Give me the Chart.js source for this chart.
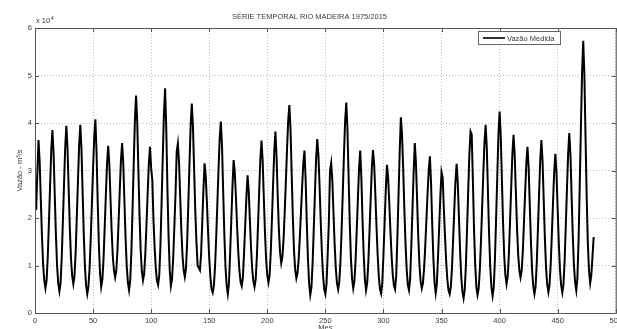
<!DOCTYPE html>
<html>
<head>
<meta charset="utf-8">
<script src="https://cdn.jsdelivr.net/npm/chart.js@4"></script>
<style>
  html, body { margin: 0; padding: 0; background: #fff; overflow: hidden; }
  #moldura { width: 617px; height: 329px; overflow: hidden; position: relative; }
  #caixa { width: 625px; height: 340px; }
</style>
</head>
<body>
<div id="moldura"><div id="caixa"><canvas id="grafico"></canvas></div></div>
<script>
const titulo = 'SÉRIE TEMPORAL RIO MADEIRA 1975/2015';
const rotuloSerie = 'Vazão Medida';
const rotuloX = 'Mes';
const rotuloY = 'Vazão - m³/s';
const expoenteY = '4';

const mesInicial = 1;
const ticksX = [0, 50, 100, 150, 200, 250, 300, 350, 400, 450, 500];
const ticksY = [0, 1, 2, 3, 4, 5, 6];

// vazao mensal, em unidades de 10^4 m3/s
const vazao = [
  2.17, 2.95, 3.64, 3.20, 2.39, 1.61, 1.02, 0.68, 0.52, 0.69, 1.19, 1.92,
  2.68, 3.42, 3.85, 3.37, 2.49, 1.65, 1.00, 0.63, 0.46, 0.63, 1.16, 1.92,
  2.72, 3.49, 3.94, 3.47, 2.61, 1.78, 1.14, 0.78, 0.61, 0.78, 1.28, 2.02,
  2.79, 3.52, 3.96, 3.46, 2.54, 1.65, 0.97, 0.58, 0.40, 0.55, 0.95, 1.58,
  2.31, 3.05, 3.71, 4.08, 3.37, 2.32, 1.43, 0.83, 0.55, 0.70, 1.14, 1.80,
  2.48, 3.13, 3.52, 3.13, 2.41, 1.72, 1.19, 0.89, 0.75, 0.89, 1.32, 1.94,
  2.59, 3.21, 3.58, 3.15, 2.34, 1.57, 0.98, 0.64, 0.48, 0.69, 1.30, 2.20,
  3.15, 4.05, 4.58, 4.04, 3.02, 2.05, 1.31, 0.88, 0.69, 0.83, 1.25, 1.87,
  2.52, 3.13, 3.50, 3.05, 2.80, 1.96, 1.38, 0.94, 0.68, 0.59, 0.80, 1.42,
  2.33, 3.28, 4.19, 4.73, 3.90, 2.65, 1.61, 0.90, 0.57, 0.72, 1.17, 1.83,
  2.52, 3.40, 3.57, 3.18, 2.45, 1.74, 1.21, 0.90, 0.76, 0.94, 1.49, 2.29,
  3.13, 3.94, 4.41, 3.92, 3.02, 2.15, 1.49, 1.00, 0.95, 0.90, 1.24, 1.91,
  2.59, 3.15, 2.88, 2.33, 1.71, 1.16, 0.76, 0.51, 0.43, 0.57, 0.97, 1.58,
  2.30, 3.02, 3.67, 4.03, 3.52, 2.58, 1.67, 0.98, 0.58, 0.40, 0.63, 1.25,
  1.95, 2.66, 3.22, 2.96, 2.43, 1.82, 1.29, 0.89, 0.65, 0.57, 0.76, 1.27,
  1.85, 2.43, 2.90, 2.57, 1.96, 1.37, 0.93, 0.67, 0.55, 0.70, 1.17, 1.84,
  2.55, 3.23, 3.63, 3.21, 2.43, 1.69, 1.12, 0.79, 0.64, 0.80, 1.28, 1.98,
  2.71, 3.41, 3.82, 3.27, 2.44, 1.74, 1.27, 1.05, 1.18, 1.55, 2.12, 2.78,
  3.45, 4.05, 4.38, 3.87, 2.92, 2.01, 1.31, 0.91, 0.73, 0.84, 1.13, 1.59,
  2.13, 2.67, 3.15, 3.42, 2.81, 1.90, 1.14, 0.62, 0.38, 0.54, 1.04, 1.76,
  2.51, 3.23, 3.66, 3.33, 2.68, 1.93, 1.28, 0.79, 0.50, 0.40, 0.62, 1.23,
  1.92, 3.00, 3.16, 2.79, 2.10, 1.43, 0.93, 0.63, 0.50, 0.66, 1.09, 1.76,
  2.54, 3.33, 4.04, 4.43, 3.88, 2.87, 1.89, 1.15, 0.72, 0.52, 0.67, 1.10,
  1.74, 2.41, 3.04, 3.42, 2.83, 1.95, 1.22, 0.72, 0.48, 0.63, 1.07, 1.72,
  2.40, 3.05, 3.43, 3.13, 2.52, 1.83, 1.23, 0.77, 0.50, 0.41, 0.63, 1.22,
  1.90, 2.58, 3.12, 2.86, 2.33, 1.73, 1.21, 0.81, 0.58, 0.50, 0.79, 1.59,
  2.49, 3.40, 4.12, 3.76, 3.03, 2.19, 1.46, 0.92, 0.59, 0.48, 0.73, 1.41,
  2.19, 2.96, 3.58, 3.15, 2.36, 1.59, 1.01, 0.67, 0.52, 0.63, 0.94, 1.41,
  1.97, 2.52, 3.02, 3.30, 2.72, 1.86, 1.14, 0.65, 0.42, 0.62, 1.19, 1.82,
  2.46, 2.97, 2.85, 2.20, 1.61, 1.09, 0.71, 0.48, 0.40, 0.54, 0.95, 1.55,
  2.18, 2.78, 3.14, 2.74, 2.01, 1.30, 0.76, 0.45, 0.31, 0.49, 1.01, 1.78,
  2.59, 3.36, 3.82, 3.76, 2.80, 1.75, 1.02, 0.55, 0.38, 0.52, 0.92, 1.53,
  2.24, 2.96, 3.60, 3.96, 3.46, 2.52, 1.62, 0.94, 0.54, 0.36, 0.55, 1.14,
  1.99, 2.88, 3.74, 4.24, 3.73, 2.79, 1.88, 1.19, 0.79, 0.61, 0.77, 1.24,
  1.93, 2.65, 3.34, 3.75, 3.33, 2.55, 1.80, 1.23, 0.90, 0.75, 0.89, 1.30,
  1.91, 2.54, 3.14, 3.50, 3.07, 2.26, 1.49, 0.90, 0.56, 0.40, 0.56, 1.05,
  1.76, 2.51, 3.22, 3.64, 3.19, 2.36, 1.56, 0.95, 0.60, 0.44, 0.59, 1.02,
  1.66, 2.33, 2.97, 3.35, 2.94, 2.18, 1.45, 0.90, 0.58, 0.43, 0.60, 1.10,
  1.84, 2.61, 3.35, 3.79, 3.33, 2.47, 1.64, 1.01, 0.65, 0.48, 0.74, 1.53,
  2.69, 3.89, 5.05, 5.73, 5.02, 3.69, 2.42, 1.45, 0.89, 0.63, 0.80, 1.20,
  1.60
];

const fonte = '"Liberation Sans", Arial, sans-serif';
const fonteTitulo = '"Liberation Sans Narrow", "Liberation Sans", Arial, sans-serif';
const corTexto = '#3a3a3a';
const corEixo = '#555';

// moldura estilo MATLAB: caixa, ticks para dentro, expoente e legenda
const molduraMatlab = {
  id: 'molduraMatlab',
  afterDraw(chart) {
    const { ctx, chartArea: a } = chart;
    const x = chart.scales.x, y = chart.scales.y;
    ctx.save();
    ctx.strokeStyle = corEixo;
    ctx.lineWidth = 1;
    ctx.strokeRect(Math.round(a.left) + 0.5, Math.round(a.top) + 0.5, a.right - a.left, a.bottom - a.top);
    ctx.beginPath();
    ticksX.forEach(v => {
      const px = Math.round(x.getPixelForValue(v)) + 0.5;
      ctx.moveTo(px, a.bottom); ctx.lineTo(px, a.bottom - 4);
      ctx.moveTo(px, a.top); ctx.lineTo(px, a.top + 4);
    });
    ticksY.forEach(v => {
      const py = Math.round(y.getPixelForValue(v)) + 0.5;
      ctx.moveTo(a.left, py); ctx.lineTo(a.left + 4, py);
      ctx.moveTo(a.right, py); ctx.lineTo(a.right - 4, py);
    });
    ctx.stroke();

    // x 10^4
    ctx.fillStyle = corTexto;
    ctx.textBaseline = 'alphabetic';
    ctx.textAlign = 'left';
    ctx.font = '7.5px ' + fonte;
    ctx.fillText('x 10', a.left + 1, a.top - 5);
    const w = ctx.measureText('x 10').width;
    ctx.font = '5.5px ' + fonte;
    ctx.fillText(expoenteY, a.left + 1.5 + w, a.top - 8.5);

    // legenda
    const lx = 478, ly = 31, lw = 82, lh = 13;
    ctx.fillStyle = '#fff';
    ctx.fillRect(lx, ly, lw, lh);
    ctx.strokeStyle = '#666';
    ctx.strokeRect(lx + 0.5, ly + 0.5, lw, lh);
    ctx.strokeStyle = '#000';
    ctx.lineWidth = 1.6;
    ctx.beginPath();
    ctx.moveTo(lx + 5, ly + 7); ctx.lineTo(lx + 27, ly + 7);
    ctx.stroke();
    ctx.fillStyle = corTexto;
    ctx.font = '7.5px ' + fonte;
    ctx.textBaseline = 'middle';
    ctx.fillText(chart.data.datasets[0].label, lx + 29, ly + 7.5);
    ctx.restore();
  }
};

const pontos = vazao.map((v, i) => ({ x: mesInicial + i, y: v }));

new Chart(document.getElementById('grafico'), {
  type: 'line',
  data: {
    datasets: [{
      label: rotuloSerie,
      data: pontos,
      borderColor: '#000',
      borderWidth: 2,
      pointRadius: 0,
      tension: 0,
      fill: false
    }]
  },
  options: {
    responsive: true,
    maintainAspectRatio: false,
    animation: false,
    layout: { padding: { left: 0, right: 6, top: 0, bottom: 0 } },
    plugins: {
      legend: { display: false },
      tooltip: { enabled: false },
      title: {
        display: true,
        text: titulo,
        color: corTexto,
        font: { family: fonteTitulo, size: 7.5, weight: 'normal', lineHeight: 1.2 },
        padding: { top: 12, bottom: 7 }
      }
    },
    scales: {
      x: {
        type: 'linear',
        min: 0,
        max: 500,
        afterBuildTicks: s => { s.ticks = ticksX.map(v => ({ value: v })); },
        afterFit: s => { s.height = 27; },
        ticks: { padding: 3, color: corTexto, font: { family: fonte, size: 7.5 }, maxRotation: 0 },
        grid: { color: '#bdbdbd', drawTicks: false, lineWidth: 1 },
        border: { display: false, dash: [1, 2] },
        title: { display: true, text: rotuloX, color: corTexto, font: { family: fonte, size: 7.5 }, padding: { top: 0, bottom: 8 } }
      },
      y: {
        min: 0,
        max: 6,
        afterBuildTicks: s => { s.ticks = ticksY.map(v => ({ value: v })); },
        afterFit: s => { s.width = 35; },
        ticks: { padding: 3, color: corTexto, font: { family: fonte, size: 7.5 } },
        grid: { color: '#bdbdbd', drawTicks: false, lineWidth: 1 },
        border: { display: false, dash: [1, 2] },
        title: { display: true, text: rotuloY, color: corTexto, font: { family: fonte, size: 7.5 }, padding: { top: 15.5, bottom: 0 } }
      }
    }
  },
  plugins: [molduraMatlab]
});
</script>
</body>
</html>
